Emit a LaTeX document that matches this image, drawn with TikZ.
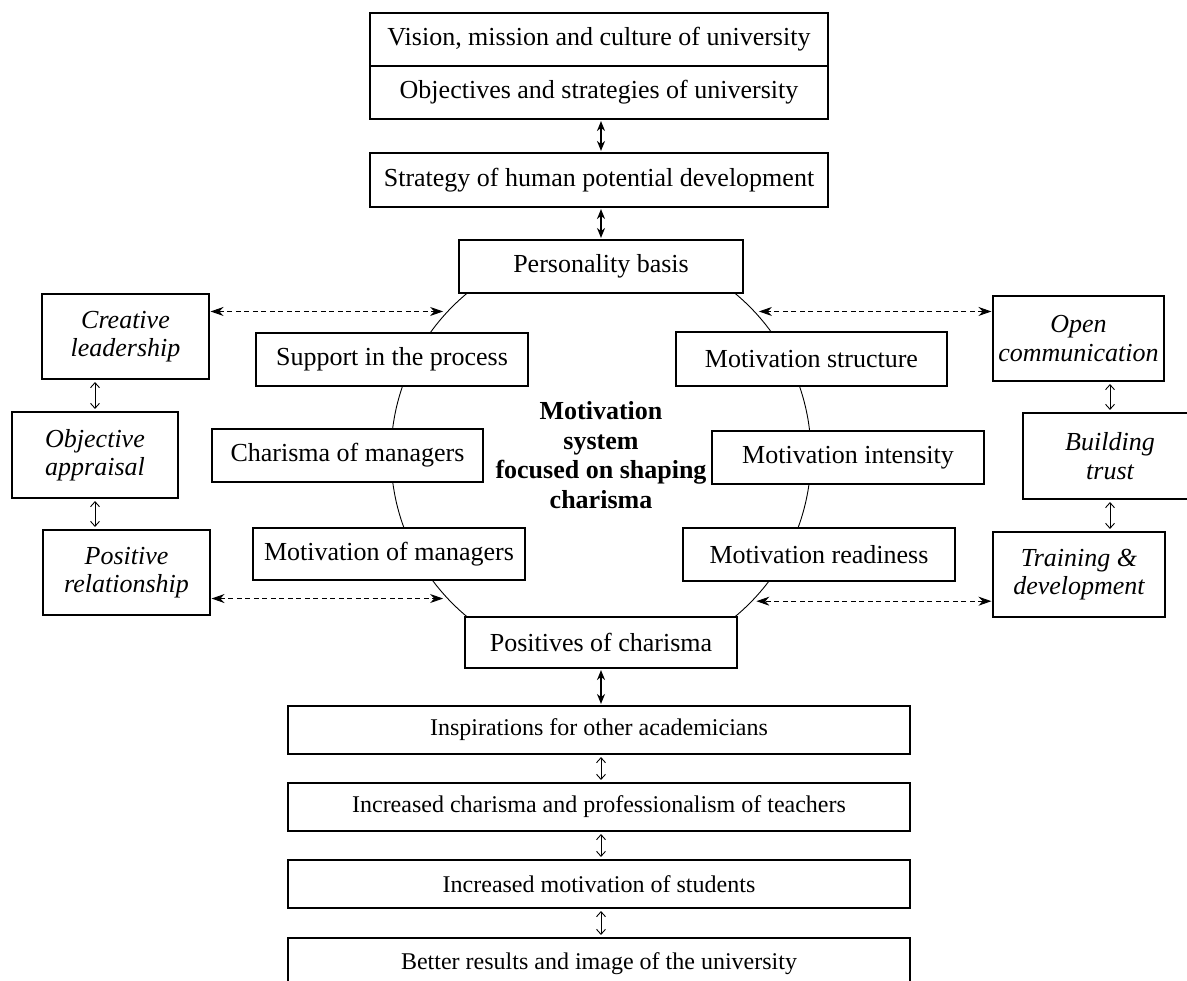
\documentclass[tikz,border=0pt]{standalone}
\usepackage{fontspec}
\setmainfont{Liberation Serif}
\usetikzlibrary{arrows.meta}
\tikzset{
  box/.style={draw, line width=1.1bp, fill=white, inner sep=0pt, align=center,
    font=\fontsize{26bp}{29.5bp}\selectfont},
  sidebox/.style={box, font=\fontsize{26bp}{28.5bp}\selectfont\itshape},
  lowbox/.style={box, font=\fontsize{24bp}{28bp}\selectfont},
  ring/.style={draw, circle, line width=0.9bp, minimum size=420bp, inner sep=0pt},
  thickarrow/.style={line width=1.6bp, {Stealth[length=10bp,width=8bp]}-{Stealth[length=10bp,width=8bp]}, shorten <=1.5bp, shorten >=1.5bp},
  thinarrow/.style={line width=0.9bp, {Straight Barb[length=5bp,width=9bp]}-{Straight Barb[length=5bp,width=9bp]}, shorten <=2.5bp, shorten >=2.5bp},
  dasharrow/.style={line width=0.9bp, dash pattern=on 5bp off 3.5bp, {Stealth[length=13bp,width=9bp]}-{Stealth[length=13bp,width=9bp]}, shorten <=1bp, shorten >=4bp},
  centertext/.style={align=center, inner sep=0pt, font=\fontsize{26bp}{29.5bp}\selectfont\bfseries}
}
\begin{document}
\begin{tikzpicture}[x=1bp, y=-1bp]
\useasboundingbox (0,0) rectangle (1187,981);
% ring
\node[ring] (C) at (601,455) {};
\node[centertext] (mid) at (601,455) {Motivation\\system\\focused on shaping\\charisma};
% top column
\node[box, minimum width=458bp, minimum height=53bp] (vis) at (599,39.5) {Vision, mission and culture of university};
\node[box, minimum width=458bp, minimum height=53bp] (obj) at (599,92.5) {Objectives and strategies of university};
\node[box, minimum width=458bp, minimum height=54bp] (strat) at (599,180) {Strategy of human potential development};
\node[box, minimum width=284bp, minimum height=53bp] (pers) at (601,266.5) {Personality basis};
\node[box, minimum width=272bp, minimum height=51bp] (pos) at (601,642.5) {Positives of charisma};
% inner boxes
\node[box, minimum width=272bp, minimum height=53bp] (sup) at (392,359.5) {Support in the process};
\node[box, minimum width=271bp, minimum height=53bp] (cha) at (347.5,455.5) {Charisma of managers};
\node[box, minimum width=272bp, minimum height=52bp] (motm) at (389,554) {Motivation of managers};
\node[box, minimum width=271bp, minimum height=54bp] (mst) at (811.5,359) {Motivation structure};
\node[box, minimum width=272bp, minimum height=53bp] (mint) at (848,457.5) {Motivation intensity};
\node[box, minimum width=272bp, minimum height=53bp] (mrd) at (819,554.5) {Motivation readiness};
% side boxes
\node[sidebox, minimum width=167bp, minimum height=85bp] (CL) at (125.5,336.5) {Creative\\leadership};
\node[sidebox, minimum width=166bp, minimum height=86bp] (OA) at (95,455) {Objective\\appraisal};
\node[sidebox, minimum width=167bp, minimum height=85bp] (PR) at (126.5,572.5) {Positive\\relationship};
\node[sidebox, minimum width=171bp, minimum height=85bp] (OC) at (1078.5,338.5) {Open\\communication};
\node[sidebox, minimum width=174bp, minimum height=86bp] (BT) at (1110,456) {Building\\trust};
\node[sidebox, minimum width=172bp, minimum height=85bp] (TD) at (1079,574.5) {Training \&\\development};
% bottom column
\node[lowbox, minimum width=622bp, minimum height=48bp] (insp) at (599,730) {Inspirations for other academicians};
\node[lowbox, minimum width=622bp, minimum height=48bp] (incC) at (599,807) {Increased charisma and professionalism of teachers};
\node[lowbox, minimum width=622bp, minimum height=48bp] (incM) at (599,884) {Increased motivation of students};
\node[lowbox, minimum width=622bp, minimum height=52bp] (bet) at (599,964) {Better results and image of the university};
% connectors: main column
\draw[thickarrow] (obj.south -| pers.north) -- (strat.north -| pers.north);
\draw[thickarrow] (strat.south -| pers.north) -- (pers.north);
\draw[thickarrow] (pos.south) -- (insp.north -| pos.south);
\draw[thinarrow] (insp.south -| pos.south) -- (incC.north -| pos.south);
\draw[thinarrow] (incC.south -| pos.south) -- (incM.north -| pos.south);
\draw[thinarrow] (incM.south -| pos.south) -- (bet.north -| pos.south);
% side columns
\draw[thinarrow] (CL.south -| OA.north) -- (OA.north);
\draw[thinarrow] (OA.south) -- (PR.north -| OA.south);
\draw[thinarrow] (OC.south -| BT.north) -- (BT.north);
\draw[thinarrow] (BT.south) -- (TD.north -| BT.south);
% dashed links to the ring
\draw[dasharrow] (CL.east |- C.137) -- (C.137);
\draw[dasharrow] (PR.east |- C.223) -- (C.223);
\draw[dasharrow] (OC.west |- C.43.7) -- (C.43.7);
\draw[dasharrow] (TD.west |- C.316.3) -- (C.316.3);
\end{tikzpicture}
\end{document}
